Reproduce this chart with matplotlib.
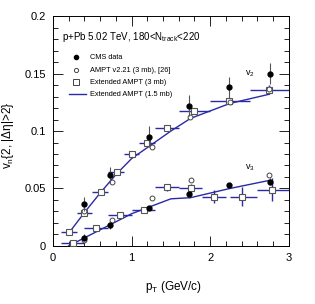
import matplotlib
matplotlib.use('Agg')
import matplotlib.pyplot as plt
from matplotlib.ticker import MultipleLocator
import numpy as np

plt.rcParams['font.family'] = ['Liberation Sans', 'DejaVu Sans']
plt.rcParams['mathtext.fontset'] = 'custom'
plt.rcParams['mathtext.rm'] = 'Liberation Sans'
plt.rcParams['mathtext.it'] = 'Liberation Sans'

# CMS data
cms_pt = [0.39, 0.72, 1.22, 1.73, 2.24, 2.76]
cms_v2 = [0.0365, 0.062, 0.095, 0.122, 0.138, 0.150]
cms_v2_err = [0.006, 0.007, 0.009, 0.009, 0.009, 0.009]
cms_v3 = [0.007, 0.018, 0.033, 0.045, 0.053, 0.056]
cms_v3_err = [0.003, 0.003, 0.002, 0.003, 0.002, 0.003]

# AMPT v2.21 (3 mb)
ampt_pt = [0.4, 0.75, 1.26, 1.74, 2.25, 2.75]
ampt_v2 = [0.030, 0.056, 0.086, 0.112, 0.125, 0.137]
ampt_v3_pt = [0.4, 0.75, 1.26, 1.75, 2.75]
ampt_v3 = [0.005, 0.0226, 0.042, 0.057, 0.062]

# Extended AMPT (3 mb)
ext_v2_pt = [0.2, 0.4, 0.61, 0.81, 1.0, 1.2, 1.45, 1.79, 2.24, 2.75]
ext_v2_lo = [0.1, 0.3, 0.5, 0.7, 0.9, 1.1, 1.3, 1.6, 2.0, 2.5]
ext_v2_hi = [0.3, 0.5, 0.7, 0.9, 1.1, 1.3, 1.6, 2.0, 2.5, 3.0]
ext_v2 = [0.012, 0.029, 0.047, 0.064, 0.080, 0.090, 0.103, 0.117, 0.126, 0.136]
ext_v2_err = [0.001, 0.001, 0.001, 0.001, 0.001, 0.001, 0.001, 0.002, 0.002, 0.004]

ext_v3_pt = [0.25, 0.55, 0.85, 1.16, 1.45, 1.75, 2.05, 2.4, 2.79]
ext_v3_lo = [0.1, 0.4, 0.7, 1.0, 1.3, 1.6, 1.9, 2.25, 2.6]
ext_v3_hi = [0.4, 0.7, 1.0, 1.3, 1.6, 1.9, 2.2, 2.6, 3.0]
ext_v3 = [0.0026, 0.0157, 0.027, 0.031, 0.051, 0.050, 0.043, 0.043, 0.049]
ext_v3_err = [0.001, 0.001, 0.001, 0.001, 0.003, 0.004, 0.006, 0.008, 0.010]

# Extended AMPT (1.5 mb)
line_pt = [0.2, 0.4, 0.6, 0.8, 1.0, 1.23, 1.5, 1.75, 2.25, 2.75]
line_v2 = [0.011, 0.029, 0.046, 0.062, 0.076, 0.087, 0.100, 0.111, 0.124, 0.132]
line_v3 = [0.0, 0.007, 0.014, 0.021, 0.028, 0.034, 0.041, 0.042, 0.050, 0.057]

blue = '#2a2aa8'

fig = plt.figure(figsize=(3.15, 3.04), dpi=100)
ax = fig.add_axes([0.168, 0.191, 0.749, 0.756])

for v, lo, hi, pt, err in [(ext_v2, ext_v2_lo, ext_v2_hi, ext_v2_pt, ext_v2_err),
                           (ext_v3, ext_v3_lo, ext_v3_hi, ext_v3_pt, ext_v3_err)]:
    xerr = [np.array(pt) - np.array(lo), np.array(hi) - np.array(pt)]
    ax.errorbar(pt, v, xerr=xerr, yerr=err, fmt='none', ecolor=blue, elinewidth=1.0, zorder=2)

ax.plot(line_pt, line_v2, color=blue, lw=1.0, zorder=2)
ax.plot(line_pt, line_v3, color=blue, lw=1.0, zorder=2)

ax.plot(ext_v2_pt, ext_v2, 's', ms=5, mfc='white', mec='#555555', mew=0.8, zorder=3)
ax.plot(ext_v3_pt, ext_v3, 's', ms=5, mfc='white', mec='#555555', mew=0.8, zorder=3)

ax.plot(ampt_pt, ampt_v2, 'o', ms=3.5, mfc='white', mec='#444444', mew=0.7, zorder=4)
ax.plot(ampt_v3_pt, ampt_v3, 'o', ms=3.5, mfc='white', mec='#444444', mew=0.7, zorder=4)

ax.errorbar(cms_pt, cms_v2, yerr=cms_v2_err, fmt='o', ms=3.5, color='black',
            ecolor='#555555', elinewidth=0.8, zorder=5)
ax.errorbar(cms_pt, cms_v3, yerr=cms_v3_err, fmt='o', ms=3.5, color='black',
            ecolor='#555555', elinewidth=0.8, zorder=5)

# legend by hand
leg_y = [0.164, 0.153, 0.1425, 0.132]
ax.plot(0.29, leg_y[0], 'o', ms=3, color='black')
ax.plot(0.29, leg_y[1], 'o', ms=3, mfc='white', mec='#444444', mew=0.7)
ax.plot(0.29, leg_y[2], 's', ms=5, mfc='white', mec='#444444', mew=0.7)
ax.plot([0.2, 0.42], [leg_y[3], leg_y[3]], color=blue, lw=1.0)
labels = ['CMS data', 'AMPT v2.21 (3 mb), [26]', 'Extended AMPT (3 mb)',
          'Extended AMPT (1.5 mb)']
for y, t in zip(leg_y, labels):
    ax.text(0.47, y, t, fontsize=5.3, va='center', ha='left')

ax.text(0.12, 0.182, 'p+Pb 5.02 TeV, 180<N$_{\\mathrm{track}}$<220', fontsize=7,
        va='center', ha='left')
ax.text(2.5, 0.150, 'v$_2$', fontsize=6.5, ha='center', va='center')
ax.text(2.5, 0.068, 'v$_3$', fontsize=6.5, ha='center', va='center')

ax.set_xlim(0, 3)
ax.set_ylim(0, 0.2)
ax.xaxis.set_major_locator(MultipleLocator(1))
ax.xaxis.set_minor_locator(MultipleLocator(0.2))
ax.yaxis.set_major_locator(MultipleLocator(0.05))
ax.yaxis.set_minor_locator(MultipleLocator(0.01))
ax.set_yticks([0, 0.05, 0.1, 0.15, 0.2])
ax.set_yticklabels(['0', '0.05', '0.1', '0.15', '0.2'])
ax.tick_params(which='both', direction='in', top=True, right=True, labelsize=8, pad=5)
ax.tick_params(which='major', length=7, width=0.6)
ax.tick_params(which='minor', length=3.5, width=0.6)
for s in ax.spines.values():
    s.set_linewidth(0.7)

ax.set_xlabel('p$_{\\mathrm{T}}$ (GeV/c)', fontsize=8.5, labelpad=11)
ax.xaxis.set_label_coords(0.51, -0.145)
ax.set_ylabel('v$_{\\mathrm{n}}${2, |Δη|>2}', fontsize=8.5)
ax.yaxis.set_label_coords(-0.155, 0.48)

fig.savefig('out.png', dpi=100)
